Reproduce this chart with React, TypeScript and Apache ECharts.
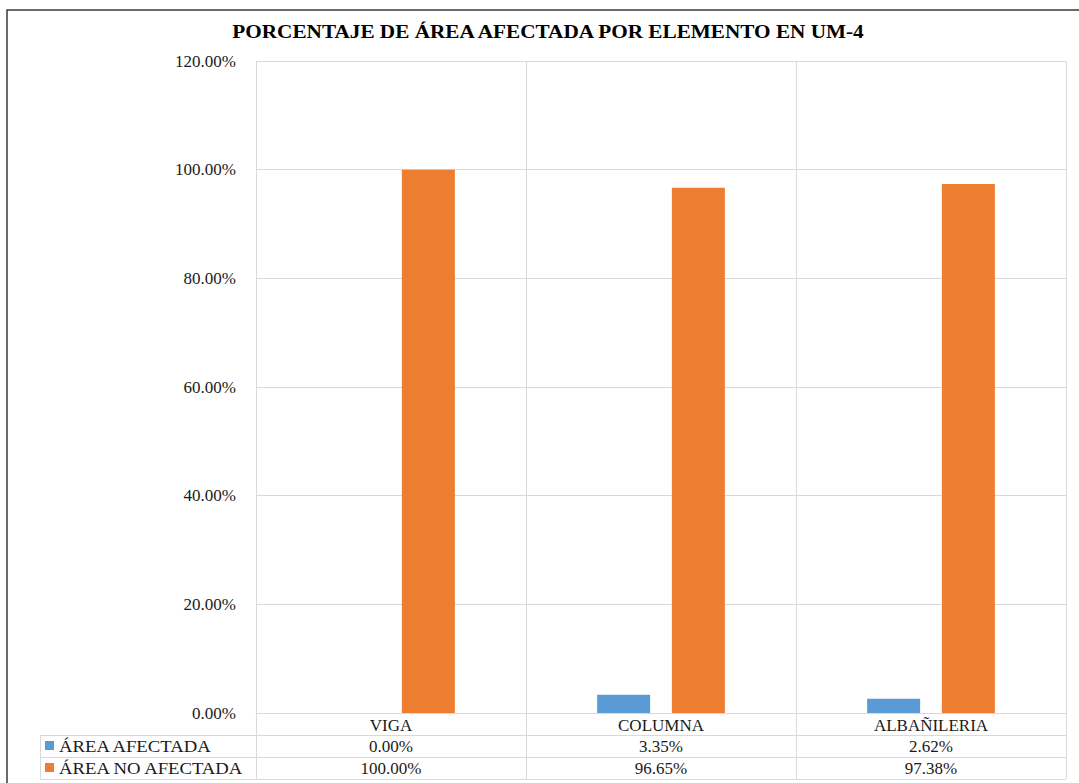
import React, { useEffect, useRef } from "react";
import * as echarts from "echarts";

const TITLE = "PORCENTAJE DE ÁREA AFECTADA POR ELEMENTO EN UM-4";
const categories = ["VIGA", "COLUMNA", "ALBAÑILERIA"];
const seriesNames = ["ÁREA AFECTADA", "ÁREA NO AFECTADA"];
const areaAfectada = [0.0, 3.35, 2.62];
const areaNoAfectada = [100.0, 96.65, 97.38];
const seriesColors = ["#5B9BD5", "#ED7D31"];

const FONT = "Liberation Serif";
const TEXT = "#1a1a1a";
const GRIDC = "#d9d9d9";
const FS = 17;

const W = 1079;
const H = 783;
const G_LEFT = 256;
const G_TOP = 61;
const G_RIGHT = 1066;
const G_BOTTOM = 713;
const ROW_H = 22;
const TABLE_LEFT = 40;

const fmt = (v: number) => v.toFixed(2) + "%";

export default function App() {
  const ref = useRef<HTMLDivElement>(null);

  useEffect(() => {
    if (!ref.current) return;
    const chart = echarts.init(ref.current, null, { renderer: "svg" });
    const seriesData = [areaAfectada, areaNoAfectada];

    chart.setOption({
      animation: false,
      backgroundColor: "#ffffff",
      textStyle: { fontFamily: FONT },
      grid: {
        left: G_LEFT,
        top: G_TOP,
        right: W - G_RIGHT,
        bottom: H - G_BOTTOM,
        containLabel: false,
      },
      xAxis: {
        type: "category",
        data: categories,
        axisLine: { show: true, lineStyle: { color: GRIDC, width: 1 } },
        axisTick: { show: false },
        splitLine: { show: false },
        axisLabel: {
          margin: 4,
          fontFamily: FONT,
          fontSize: FS,
          color: TEXT,
        },
      },
      yAxis: {
        type: "value",
        min: 0,
        max: 120,
        interval: 20,
        axisLine: { show: false },
        axisTick: { show: false },
        splitLine: { show: true, lineStyle: { color: GRIDC, width: 1 } },
        axisLabel: {
          margin: 20,
          fontFamily: FONT,
          fontSize: FS,
          color: TEXT,
          formatter: (v: number) => fmt(v),
        },
      },
      series: seriesNames.map((name, i) => ({
        name,
        type: "bar",
        data: seriesData[i],
        barWidth: 53,
        barGap: "41%",
        itemStyle: { color: seriesColors[i] },
      })),
    });

    // Data table under the plot, plus frame and title
    const band = (G_RIGHT - G_LEFT) / categories.length;
    const graphics: any[] = [];
    const line = (x1: number, y1: number, x2: number, y2: number) => ({
      type: "line",
      shape: { x1, y1, x2, y2 },
      style: { stroke: GRIDC, lineWidth: 1 },
      silent: true,
    });

    const tableBottom = G_BOTTOM + ROW_H * 3;
    // vertical boundaries of plot / table
    for (let i = 0; i <= categories.length; i++) {
      const x = Math.round(G_LEFT + band * i) + 0.5;
      graphics.push(line(x, G_TOP, x, tableBottom));
    }
    graphics.push(line(TABLE_LEFT + 0.5, G_BOTTOM + ROW_H, TABLE_LEFT + 0.5, tableBottom));
    // horizontal rows
    for (let r = 1; r <= 3; r++) {
      const y = G_BOTTOM + ROW_H * r + 0.5;
      graphics.push(line(TABLE_LEFT, y, G_RIGHT, y));
    }

    seriesNames.forEach((name, s) => {
      const cy = G_BOTTOM + ROW_H * (s + 1) + ROW_H / 2;
      graphics.push({
        type: "rect",
        shape: { x: 45, y: cy - 5, width: 9, height: 9 },
        style: { fill: seriesColors[s] },
        silent: true,
      });
      graphics.push({
        type: "text",
        x: 59,
        y: cy,
        scaleX: 1.1,
        style: {
          text: name,
          fontFamily: FONT,
          fontSize: FS,
          fill: TEXT,
          textAlign: "left",
          textVerticalAlign: "middle",
        },
        silent: true,
      });
      seriesData[s].forEach((v, c) => {
        graphics.push({
          type: "text",
          x: G_LEFT + band * c + band / 2,
          y: cy,
          style: {
            text: fmt(v),
            fontFamily: FONT,
            fontSize: FS,
            fill: TEXT,
            textAlign: "center",
            textVerticalAlign: "middle",
          },
          silent: true,
        });
      });
    });

    // chart frame
    graphics.push({
      type: "rect",
      shape: { x: 7, y: 10, width: 1100, height: 800 },
      style: { fill: "none", stroke: "#3a3a3a", lineWidth: 1.5 },
      silent: true,
    });
    // title
    graphics.push({
      type: "text",
      x: 548,
      y: 32,
      scaleX: 1.18,
      style: {
        text: TITLE,
        fontFamily: FONT,
        fontSize: 18,
        fontWeight: "bold",
        fill: "#000000",
        textAlign: "center",
        textVerticalAlign: "middle",
      },
      silent: true,
    });

    chart.setOption({ graphic: graphics });

    return () => chart.dispose();
  }, []);

  return (
    <div
      ref={ref}
      style={{ position: "fixed", left: 0, top: 0, width: W, height: H }}
    />
  );
}
